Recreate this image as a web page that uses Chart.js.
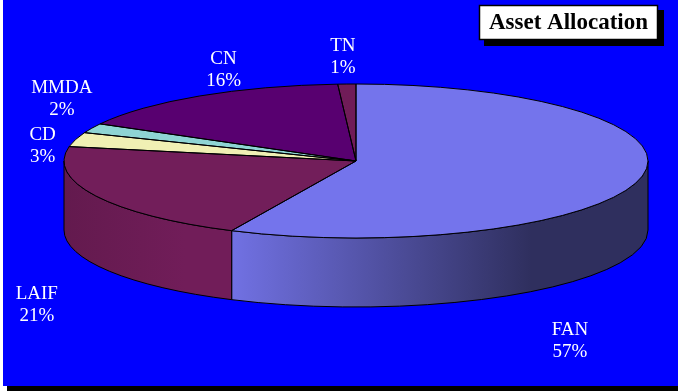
<!DOCTYPE html>
<html>
<head>
<meta charset="utf-8">
<script src="https://cdn.jsdelivr.net/npm/chart.js@4.4.0/dist/chart.umd.min.js"></script>
<style>
    html, body { margin: 0; padding: 0; background: #fff; }
    canvas { display: block; }
</style>
</head>
<body>
<canvas id="allocationChart" width="678" height="391"></canvas>
<script>
const sliceLabels = ["FAN", "LAIF", "CD", "MMDA", "CN", "TN"];
const sliceShares = [57, 21, 3, 2, 16, 1];
const titleText = "Asset Allocation";

const topColors = ["#7474ec", "#721e5a", "#f0f0b4", "#8ed4d4", "#580070", "#701c58"];
const sideColors = [
    ["#7171e3", "#2f2f5e"], ["#631a4e", "#711d59"], ["#d8d8a0", "#d8d8a0"],
    ["#7cbcbc", "#7cbcbc"], ["#4a0060", "#4a0060"], ["#5e1749", "#5e1749"]
];

// flattened pie placement on the page, and label shift from each slice's rim point
const tilt = { cx: 356, cy: 161, rx: 292, ry: 77, depth: 69 };
const labelShift = [[-71, 94], [-59, 40], [-33, 6], [-30, -29], [24, -26], [-4, -27]];

function rimPoint(angle, drop) {
    return {
        x: tilt.cx + tilt.rx * Math.cos(angle),
        y: tilt.cy + tilt.ry * Math.sin(angle) + (drop || 0)
    };
}

const pie3d = {
    id: "pie3d",
    beforeDraw(chart) {
        const c = chart.ctx;
        c.save();
        c.fillStyle = "#ffffff";
        c.fillRect(0, 0, chart.width, chart.height);
        c.fillStyle = "#000000";
        c.fillRect(7, 386, chart.width - 7, 5);
        c.fillStyle = "#0000ff";
        c.fillRect(3, 0, chart.width - 3, 386);
        c.restore();
    },
    beforeDatasetsDraw(chart) {
        const c = chart.ctx;
        const arcs = chart.getDatasetMeta(0).data;
        const d = tilt.depth;

        // front walls, only the part of each slice facing the viewer
        arcs.forEach((arc, i) => {
            const s = Math.max(arc.startAngle, 0);
            const e = Math.min(arc.endAngle, Math.PI);
            if (e <= s) return;
            const x0 = Math.min(rimPoint(s).x, rimPoint(e).x);
            const x1 = Math.max(rimPoint(s).x, rimPoint(e).x);
            const g = c.createLinearGradient(x0, 0, x1, 0);
            g.addColorStop(0, sideColors[i][0]);
            g.addColorStop(0.72, sideColors[i][1]);
            g.addColorStop(1, sideColors[i][1]);

            c.save();
            c.beginPath();
            c.ellipse(tilt.cx, tilt.cy, tilt.rx, tilt.ry, 0, s, e);
            c.ellipse(tilt.cx, tilt.cy + d, tilt.rx, tilt.ry, 0, e, s, true);
            c.closePath();
            c.fillStyle = g;
            c.fill();
            c.lineWidth = 1;
            c.strokeStyle = "#000000";
            c.stroke();
            c.restore();
        });

        // squash the library's round pie into the tilted ellipse
        const a0 = arcs[0];
        c.save();
        c.translate(tilt.cx, tilt.cy);
        c.scale(tilt.rx / a0.outerRadius, tilt.ry / a0.outerRadius);
        c.translate(-a0.x, -a0.y);
    },
    afterDatasetsDraw(chart) {
        const c = chart.ctx;
        c.restore();
        const arcs = chart.getDatasetMeta(0).data;

        c.save();
        c.lineWidth = 1;
        c.strokeStyle = "#000000";
        arcs.forEach(arc => {
            c.beginPath();
            c.moveTo(tilt.cx, tilt.cy);
            c.ellipse(tilt.cx, tilt.cy, tilt.rx, tilt.ry, 0, arc.startAngle, arc.endAngle);
            c.closePath();
            c.stroke();
        });

        c.fillStyle = "#ffffff";
        c.font = "19px 'Liberation Serif'";
        c.textAlign = "center";
        c.textBaseline = "middle";
        arcs.forEach((arc, i) => {
            const mid = (arc.startAngle + arc.endAngle) / 2;
            const p = rimPoint(mid, Math.sin(mid) > 0 ? tilt.depth : 0);
            const x = p.x + labelShift[i][0];
            const y = p.y + labelShift[i][1];
            c.fillText(sliceLabels[i], x, y - 11);
            c.fillText(sliceShares[i] + "%", x, y + 11);
        });
        c.restore();
    },
    afterDraw(chart) {
        const c = chart.ctx;
        c.save();
        c.fillStyle = "#000000";
        c.fillRect(484, 10, 180, 36);
        c.fillStyle = "#ffffff";
        c.fillRect(479, 5, 179, 35);
        c.lineWidth = 1.5;
        c.strokeStyle = "#000000";
        c.strokeRect(479.5, 5.5, 178, 34);
        c.fillStyle = "#000000";
        c.font = "bold 23px 'Liberation Serif'";
        c.textAlign = "center";
        c.textBaseline = "middle";
        c.fillText(titleText, 568.5, 23.5);
        c.restore();
    }
};

new Chart(document.getElementById("allocationChart"), {
    type: "pie",
    data: {
        labels: sliceLabels,
        datasets: [{
            data: sliceShares,
            backgroundColor: topColors,
            borderWidth: 0,
            hoverOffset: 0,
            clip: false
        }]
    },
    options: {
        responsive: false,
        animation: false,
        events: [],
        layout: { padding: { left: 206, right: 172, top: 11, bottom: 80 } },
        plugins: {
            legend: { display: false },
            tooltip: { enabled: false }
        }
    },
    plugins: [pie3d]
});
</script>
</body>
</html>
